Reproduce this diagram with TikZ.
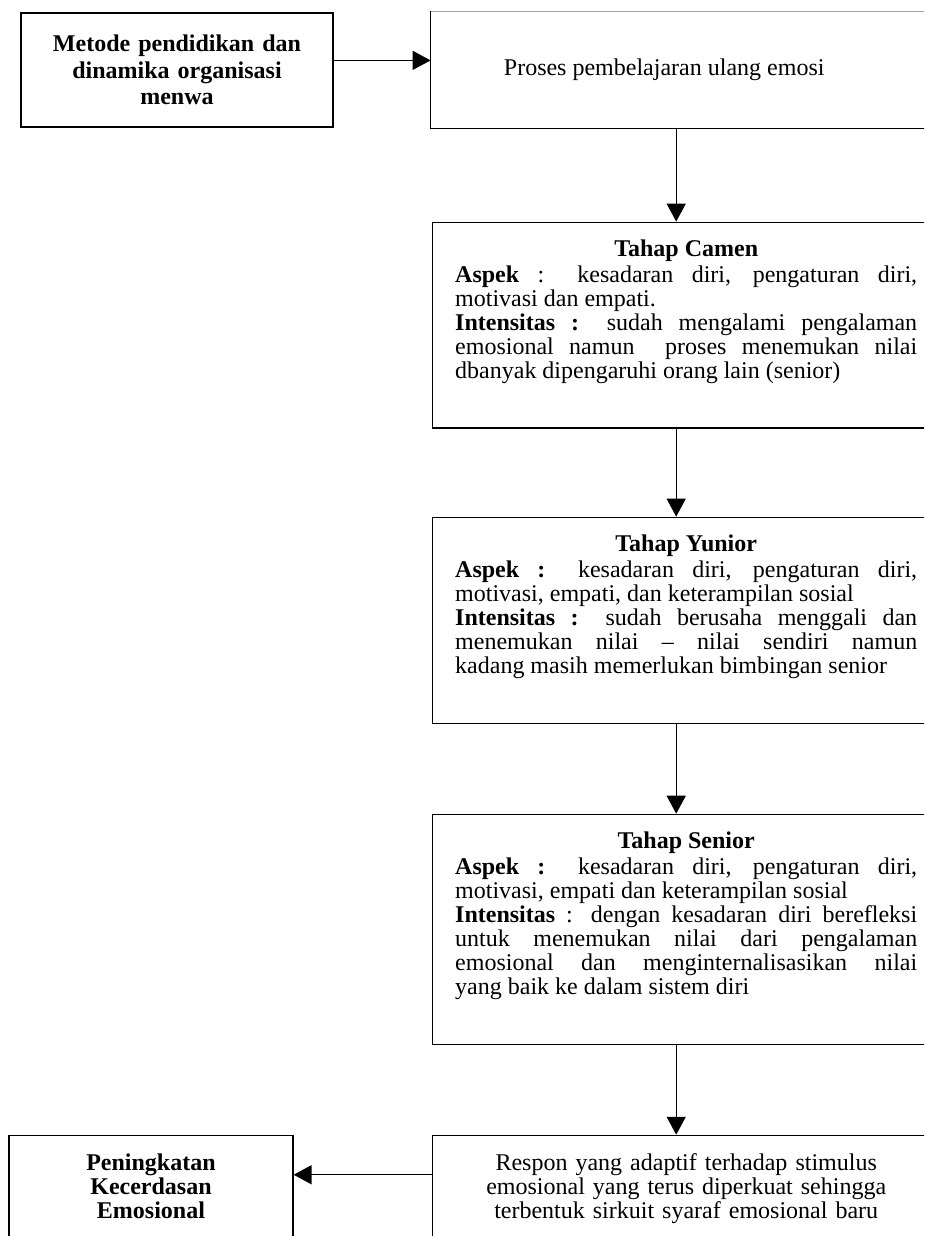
\documentclass[tikz,border=0pt]{standalone}
\usepackage{fontspec}
\setmainfont{Liberation Serif}
\usepackage{tikz}
\usetikzlibrary{arrows.meta, positioning}
\hbadness=10000
\newcommand{\tahap}[1]{{\centering\bfseries #1\par}\vspace{2pt}}
\newcommand{\kosong}{\par\strut}

\begin{document}
\begin{tikzpicture}[x=1pt, y=-1pt,
      box/.style={rectangle, draw=black, line width=1.2pt, align=center,
                  font=\fontsize{24}{24}\selectfont, inner xsep=23pt, inner ysep=18pt},
      tahapbox/.style={box, text width=462pt, align=justify},
      arr/.style={-{Triangle[length=18pt, width=19pt]}, line width=1.4pt},
    ]
    \useasboundingbox (0,0) rectangle (924,1236);
    \clip (0,0) rectangle (924,1236);
    \node[box, font=\bfseries\fontsize{24}{26.5}\selectfont, text width=292pt,
          inner xsep=10pt, minimum height=114pt] (metode) at (177,70)
      {Metode pendidikan dan\\dinamika organisasi\\menwa};
    \node[box, draw=none, minimum width=510pt, minimum height=116pt, right=97pt of metode] (proses)
      {Proses pembelajaran ulang emosi\hspace*{44pt}};
    \draw[line width=1.2pt] (proses.north west) -- (proses.south west) -- (proses.south east);
    \draw[line width=0.6pt, black!35] (proses.north west) -- (proses.north east);
    \node[tahapbox, below=93pt of proses] (camen) {\tahap{Tahap Camen}
      \textbf{Aspek} : kesadaran diri, pengaturan diri,\linebreak motivasi dan empati.\par
      \textbf{Intensitas :} sudah mengalami pengalaman\linebreak emosional namun\ \ proses menemukan nilai\linebreak
      dbanyak dipengaruhi orang lain (senior)\kosong};
    \node[tahapbox, below=88pt of camen] (yunior) {\tahap{Tahap Yunior}
      \textbf{Aspek :} kesadaran diri, pengaturan diri,\linebreak motivasi, empati, dan keterampilan sosial\par
      \textbf{Intensitas :} sudah berusaha menggali dan\linebreak menemukan nilai -- nilai sendiri namun\linebreak
      kadang masih memerlukan bimbingan senior\kosong};
    \node[tahapbox, below=90pt of yunior] (senior) {\tahap{Tahap Senior}
      \textbf{Aspek :} kesadaran diri, pengaturan diri,\linebreak motivasi, empati dan keterampilan sosial\par
      \textbf{Intensitas} : dengan kesadaran diri berefleksi\linebreak untuk menemukan nilai dari pengalaman\linebreak
      emosional dan menginternalisasikan nilai\linebreak yang baik ke dalam sistem diri\kosong};
    \node[box, text width=462pt, below=90pt of senior] (respon)
      {Respon yang adaptif terhadap stimulus\\emosional yang terus diperkuat sehingga\\
       terbentuk sirkuit syaraf emosional baru\\\strut\\\strut};
    \node[box, font=\bfseries\fontsize{24}{24}\selectfont, text width=244pt, inner xsep=20pt,
          left=138pt of respon] (naik)
      {Peningkatan\\Kecerdasan\\Emosional\\\strut\\\strut};
    \draw[arr] ([yshift=-48pt]metode.north east) -- ([yshift=-48pt]metode.north east -| proses.west);
    \draw[arr] ([xshift=-10pt]proses.south) -- ([xshift=-10pt]camen.north);
    \draw[arr] ([xshift=-10pt]camen.south) -- ([xshift=-10pt]yunior.north);
    \draw[arr] ([xshift=-10pt]yunior.south) -- ([xshift=-10pt]senior.north);
    \draw[arr] ([xshift=-10pt]senior.south) -- ([xshift=-10pt]respon.north);
    \draw[arr] ([yshift=-40pt]respon.north west) -- ([yshift=-40pt]respon.north west -| naik.east);
  \end{tikzpicture}
\end{document}
